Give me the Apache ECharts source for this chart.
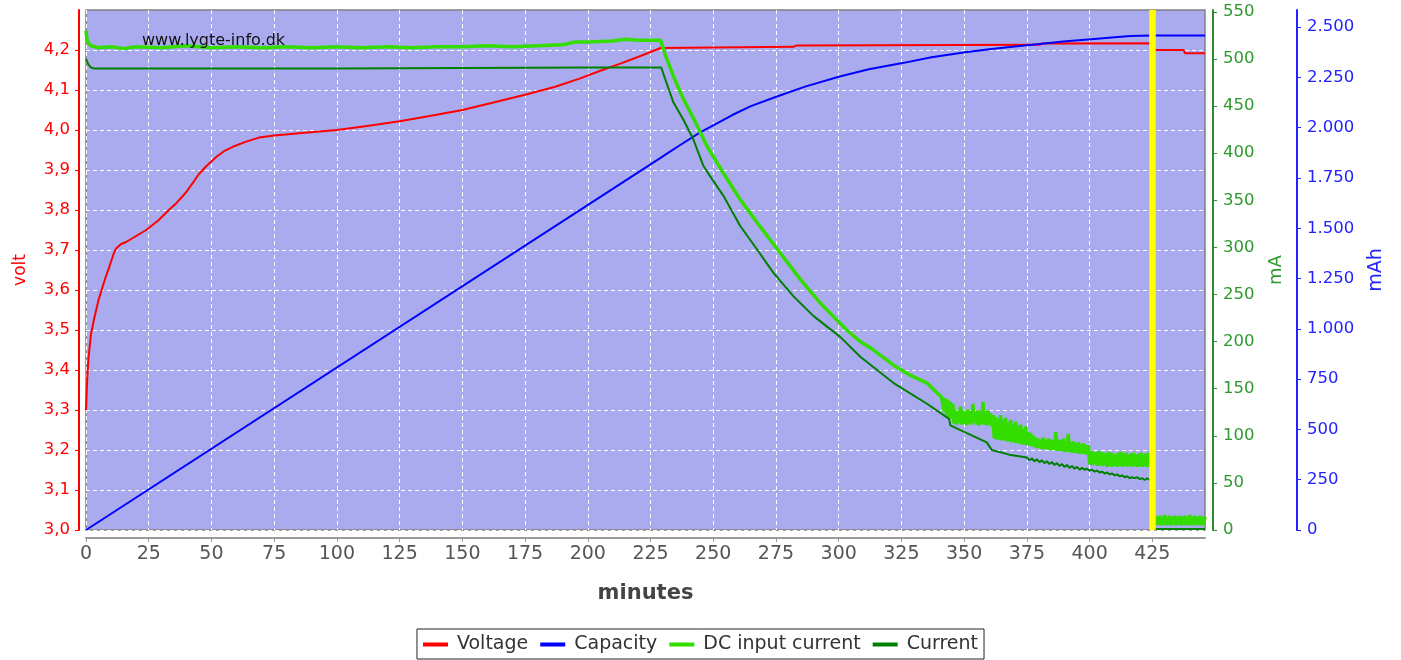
<!DOCTYPE html>
<html><head><meta charset="utf-8">
<script src="https://cdn.jsdelivr.net/npm/echarts@6/dist/echarts.min.js"></script>
<style>html,body{margin:0;padding:0;background:#fff}#c{width:1401px;height:660px}</style>
</head><body><div id="c"></div>
<script>
// ---- data (minutes, value) ----
const minuteTicks = [0,25,50,75,100,125,150,175,200,225,250,275,300,325,350,375,400,425];
const voltTicks = [3.0,3.1,3.2,3.3,3.4,3.5,3.6,3.7,3.8,3.9,4.0,4.1,4.2];
const mATicks = [0,50,100,150,200,250,300,350,400,450,500,550];
const mAhTicks = [0,250,500,750,1000,1250,1500,1750,2000,2250,2500];
const eventTime = 425;

const voltage = [[0,3.30],[0.5,3.38],[1,3.43],[2,3.49],[3.3,3.53],[5,3.575],[6.6,3.608],[8,3.635],[9.3,3.658],[11,3.69],[12,3.704],[14,3.715],[16,3.72],[20,3.735],[24,3.75],[29,3.775],[33,3.80],[36,3.817],[40,3.845],[42.5,3.867],[45,3.89],[48,3.91],[52,3.933],[55,3.947],[58.5,3.958],[63.8,3.971],[69,3.981],[75,3.986],[85,3.992],[100,4.0],[112,4.01],[125,4.022],[137,4.035],[150,4.05],[162,4.068],[175,4.088],[187,4.108],[197,4.129],[205,4.148],[213,4.166],[221,4.185],[229,4.205],[229.5,4.207],[282,4.208],[283,4.211],[380,4.213],[381,4.216],[424.8,4.217],[425.5,4.2],[437.5,4.2],[438,4.192],[446,4.192]];

const capacity = [[0,0],[229,1850],[232,1875],[237,1915],[244.6,1975],[250,2012],[257.6,2063],[265,2107],[275.4,2155],[286.6,2204],[300.4,2254],[312,2290],[325.4,2321],[337,2350],[350.4,2375],[360,2390],[369.2,2402],[378,2414],[389.5,2428],[400.7,2440],[410,2450],[416.3,2456],[425,2458],[446,2458]];

const dcInput = [[0,530],[0.3,522],[1,517],[2,514],[5,512],[10,513],[15,511],[20,513],[30,512],[40,514],[50,512],[60,513],[70,512],[80,513],[90,512],[100,513],[110,512],[120,513],[130,512],[140,513],[150,513],[160,514],[170,513],[180,514],[190,515],[195,518],[200,518],[210,519],[215,521],[220,520],[229,520],
[230.8,505],[234.1,482],[238,458],[242.7,434],[247.4,408],[254,379],[260.7,351],[268.7,322],[276.7,294],[284.7,266],[292.6,241],[303.3,212],[308.6,200],[313.9,191],[321.9,175],[328,165],[335.2,156],[341,141],
[342,126],[342.5,140],[343,122],[343.5,138],[344,120],[344.5,136],[345,118],[345.5,134],
[346,113],[346.5,127],[347,112],[347.5,126],[348,114],[348.5,131],[349,112],[349.5,127],[350,113],[350.5,125],[351,111],[351.5,128],[352,113],[352.5,126],[353,112],[353.5,134],[354,114],[354.5,125],[355,112],[355.5,127],[356,111],[356.5,126],[357,113],[357.5,136],[358,112],[358.5,125],[359,111],[359.5,127],[360,112],[360.5,124],[361,110],[361.5,122],
[362,97],[362.5,120],[363,96],[363.5,118],[364,96],[364.5,122],[365,95],[365.5,116],[366,95],[366.5,119],[367,94],[367.5,114],[368,94],[368.5,117],[369,93],[369.5,112],[370,93],[370.5,115],[371,92],[371.5,110],[372,92],[372.5,112],[373,91],[373.5,107],[374,91],[374.5,110],[375,90],[375.5,104],[376,90],[376.5,103],[377,89],[377.5,100],
[378,88],[378.5,98],[379,87],[379.5,97],[380,87],[380.5,96],[381,86],[381.5,98],[382,86],[382.5,95],[383,86],[383.5,97],[384,85],[384.5,96],[385,85],[385.5,95],[386,85],[386.5,104],[387,84],[387.5,96],[388,84],[388.5,95],[389,84],[389.5,97],[390,83],[390.5,94],[391,83],[391.5,102],[392,83],[392.5,93],[393,82],[393.5,94],[394,82],[394.5,92],[395,82],[395.5,93],[396,81],[396.5,91],[397,81],[397.5,92],[398,81],[398.5,90],[399,80],[399.5,90],
[400,70],[400.5,84],[401,69],[401.5,83],[402,70],[402.5,82],[403,68],[403.5,84],[404,69],[404.5,83],[405,68],[405.5,82],[406,69],[406.5,81],[407,67],[407.5,83],[408,68],[408.5,82],[409,67],[409.5,81],[410,68],[410.5,80],[411,67],[411.5,82],[412,68],[412.5,83],[413,67],[413.5,81],[414,68],[414.5,82],[415,67],[415.5,80],[416,68],[416.5,81],[417,67],[417.5,82],[418,68],[418.5,80],[419,67],[419.5,81],[420,68],[420.5,82],[421,67],[421.5,80],[422,68],[422.5,81],[423,67],[423.5,82],[424,68],[424.5,80],[424.9,78],
[425.2,12],[425.5,6],[426,15],[426.5,5],[427,14],[427.5,6],[428,15],[428.5,5],[429,14],[429.5,6],[430,16],[430.5,5],[431,14],[431.5,6],[432,15],[432.5,5],[433,14],[433.5,6],[434,15],[434.5,5],[435,14],[435.5,6],[436,15],[436.5,5],[437,14],[437.5,6],[438,15],[438.5,5],[439,14],[439.5,6],[440,16],[440.5,5],[441,14],[441.5,6],[442,15],[442.5,5],[443,14],[443.5,6],[444,15],[444.5,5],[445,14],[445.5,6],[446,14]];

const current = [[0,500],[0.5,497],[1,494],[2,491],[3,490],[50,490],[100,490],[150,490.5],[200,491],[229.3,491],
[230.8,479],[234.1,454],[238,436],[242,415],[246,387],[247.4,381],[254,355],[260.7,323],[267.4,298],[274,273],[282,248],[290,227],[300.6,205],[308.6,184],[321.9,156],[335.2,134],[341.8,122],[344,118],[344.5,111],[359,93],[361,85],[368,80],
[375,77],[376,74],[377,76],[378,73],[379,75],[380,72],[381,74],[382,71],[383,73],[384,70],[385,72],[386,69],[387,71],[388,68],[389,70],[390,67],[391,69],[392,66],[393,68],[394,65],[395,67],[396,64],[397,66],[398,64],[399,65],[400,63],[401,64],[402,62],[403,63],[404,61],[405,62],[406,60],[407,61],[408,59],[409,60],[410,58],[411,59],[412,57],[413,58],[414,56],[415,57],[416,55],[417,56],[418,55],[419,56],[420,54],[421,55],[422,53],[423,55],[424,53],[424.7,54],
[425,53],[425.1,12],[425.5,1],[446,1]];

// ---- chart ----
const FONT = 'DejaVu Sans';
const chart = echarts.init(document.getElementById('c'), null, {renderer:'canvas'});
const gridDash = {show:true, lineStyle:{color:'#ffffff', type:[4,3], width:1}};
chart.setOption({
  animation:false,
  backgroundColor:'#ffffff',
  grid:{left:86, right:196, top:10, bottom:130, show:true, backgroundColor:'#AAAAEE', borderColor:'#808080', borderWidth:1.5},
  xAxis:{type:'value', min:0, max:446, interval:25, offset:8,
    name:'minutes', nameLocation:'middle', nameGap:45,
    nameTextStyle:{fontFamily:FONT, fontSize:21, fontWeight:'bold', color:'#444'},
    axisLine:{show:true, onZero:false, lineStyle:{color:'#999', width:2}},
    axisTick:{show:true, length:4, lineStyle:{color:'#999'}, customValues:minuteTicks},
    axisLabel:{customValues:minuteTicks, margin:7, fontFamily:FONT, fontSize:19, color:'#555'},
    splitLine:gridDash},
  yAxis:[
    {type:'value', min:3, max:4.3, interval:0.1, position:'left', offset:7,
     name:'volt', nameLocation:'middle', nameGap:50,
     nameTextStyle:{color:'#ff0000', fontFamily:FONT, fontSize:17},
     axisLine:{show:true, onZero:false, lineStyle:{color:'#ff0000', width:2}},
     axisTick:{show:true, length:4, lineStyle:{color:'#ff0000'}, customValues:voltTicks},
     axisLabel:{customValues:voltTicks, margin:9, color:'#ff0000', fontFamily:FONT, fontSize:16.5,
       formatter:v => v.toFixed(1).replace('.', ',')},
     splitLine:gridDash},
    {type:'value', min:0, max:552, interval:50, position:'right', offset:8,
     name:'mA', nameLocation:'middle', nameGap:54,
     nameTextStyle:{color:'#2e9a2e', fontFamily:FONT, fontSize:18},
     axisLine:{show:true, onZero:false, lineStyle:{color:'#2e8b2e', width:2}},
     axisTick:{show:true, length:4, lineStyle:{color:'#2e8b2e'}, customValues:mATicks},
     axisLabel:{customValues:mATicks, margin:10, color:'#2e9a2e', fontFamily:FONT, fontSize:16.5},
     splitLine:{show:false}},
    {type:'value', min:0, max:2585, interval:250, position:'right', offset:92,
     name:'mAh', nameLocation:'middle', nameGap:70,
     nameTextStyle:{color:'#2222ff', fontFamily:FONT, fontSize:19},
     axisLine:{show:true, onZero:false, lineStyle:{color:'#2222ff', width:2}},
     axisTick:{show:true, length:4, lineStyle:{color:'#2222ff'}, customValues:mAhTicks},
     axisLabel:{customValues:mAhTicks, margin:10, color:'#2222ff', fontFamily:FONT, fontSize:16.5,
       formatter:v => v >= 1000 ? (v/1000).toFixed(3) : String(v)},
     splitLine:{show:false}}
  ],
  legend:{data:['Voltage','Capacity','DC input current','Current'], left:'center', bottom:1,
    icon:'rect', itemWidth:25, itemHeight:4, itemGap:12, padding:[6,6,5,6],
    borderColor:'#222', borderWidth:1, backgroundColor:'#ffffff', selectedMode:false,
    textStyle:{fontFamily:FONT, fontSize:19, color:'#333', padding:[0,0,0,4]}},
  graphic:[{type:'text', left:142, top:33, z:100, silent:true,
    style:{text:'www.lygte-info.dk', font:'16px "DejaVu Sans"', fill:'#111'}}],
  series:[
    {type:'line', name:'marker', data:[], yAxisIndex:1, z:1, silent:true,
     markLine:{silent:true, symbol:['none','none'], label:{show:false}, animation:false,
       lineStyle:{color:'#FFFF00', width:6.5, type:'solid'}, data:[{xAxis:eventTime}]}},
    {type:'line', name:'Voltage', data:voltage, yAxisIndex:0, showSymbol:false, symbol:'none', z:2,
     lineStyle:{color:'#ff0000', width:2}, itemStyle:{color:'#ff0000'}},
    {type:'line', name:'Capacity', data:capacity, yAxisIndex:2, showSymbol:false, symbol:'none', z:2,
     lineStyle:{color:'#0000ff', width:2}, itemStyle:{color:'#0000ff'}},
    {type:'line', name:'DC input current', data:dcInput, yAxisIndex:1, showSymbol:false, symbol:'none', z:2,
     lineStyle:{color:'#33dd00', width:3.5}, itemStyle:{color:'#33dd00'}},
    {type:'line', name:'Current', data:current, yAxisIndex:1, showSymbol:false, symbol:'none', z:2,
     lineStyle:{color:'#008000', width:2}, itemStyle:{color:'#008000'}}
  ]
});
</script></body></html>
